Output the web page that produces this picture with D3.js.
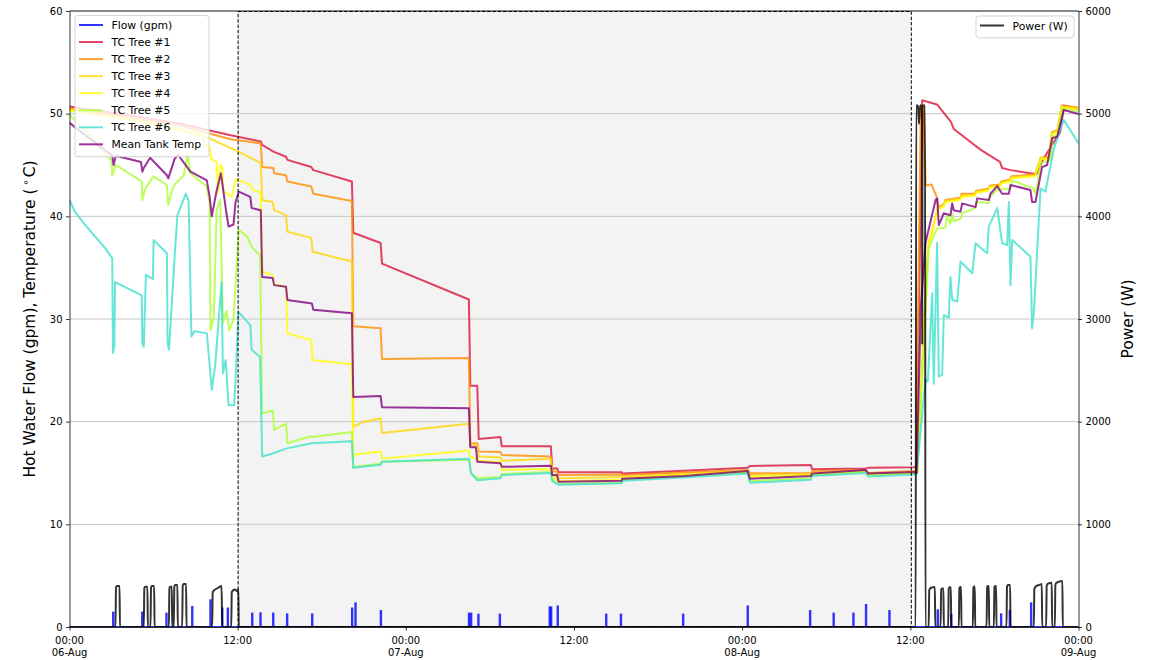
<!DOCTYPE html>
<html>
<head>
<meta charset="utf-8">
<script src="https://cdn.jsdelivr.net/npm/d3@7"></script>
<style>
  body { margin: 0; background: #ffffff; }
  svg text { font-family: "DejaVu Sans", sans-serif; fill: #000; }
</style>
</head>
<body>
<svg id="chart" width="1153" height="660"></svg>
<script>
// ---- time axis (hours since 06-Aug 00:00) ----
const timeTickHours = [0, 12, 24, 36, 48, 60, 72];
const timeTickClock = ["00:00", "12:00", "00:00", "12:00", "00:00", "12:00", "00:00"];
const timeTickDate  = ["06-Aug", "", "07-Aug", "", "08-Aug", "", "09-Aug"];
const tempTicks  = [0, 10, 20, 30, 40, 50, 60];
const powerTicks = [0, 1000, 2000, 3000, 4000, 5000, 6000];

// no-draw test window (hours)
const testWindow = [12.03, 60.07];

// ---- hot water draws: start hour and flow (gpm) ----
const flowHours = [3.12, 5.19, 6.92, 8.76, 10.06, 10.9, 11.3, 13.04, 13.63, 14.54, 15.53, 17.32,
  20.17, 20.41, 22.22, 28.51, 28.66, 29.18, 30.71, 34.27, 34.37, 34.84, 38.3, 39.35, 43.79,
  48.4, 52.85, 54.53, 55.94, 56.84, 58.51, 61.96, 62.92, 66.48, 67.1, 68.62];
const flowGpm = [1.5, 1.5, 1.4, 2.05, 2.7, 1.9, 1.9, 1.4, 1.43, 1.4, 1.33, 1.33,
  1.9, 2.4, 1.65, 1.4, 1.4, 1.3, 1.3, 2.0, 2.0, 2.1, 1.3, 1.3, 1.3,
  2.1, 1.65, 1.4, 1.4, 2.24, 1.65, 1.72, 1.27, 1.33, 1.66, 2.4];

// ---- thermocouple trees [hour, degC] ----
const tcTree1 = [[0,50.7],[4,49.9],[8,49.0],[11.5,47.9],[13.65,47.3],[13.75,46.95],[14.55,46.3],[15.45,45.8],[15.55,45.5],
  [17.25,44.8],[17.4,44.5],[20.15,43.4],[20.25,38.4],[22.2,37.4],[22.3,35.4],[28.5,31.9],[28.6,23.5],[29.1,23.5],
  [29.2,18.3],[30.75,18.5],[30.85,17.6],[34.35,17.6],[34.45,15.45],[34.8,15.45],[34.9,15.07],[39.4,15.07],[39.45,14.95],
  [43.85,15.23],[48.4,15.5],[48.55,15.68],[52.9,15.78],[53.0,15.36],[56.8,15.45],[57.0,15.5],[60.25,15.55],[60.45,15.6],
  [60.85,51.3],[61.9,50.9],[62.9,49.2],[63.1,48.5],[65.0,46.5],[66.4,45.3],[66.55,44.7],[67.15,44.5],[69.0,44.1],
  [69.5,45.6],[70.7,48.2],[70.95,50.8],[72,50.4]];

const tcTree2 = [[0,50.5],[4,49.7],[8,48.8],[11.5,47.5],[13.65,47.1],[13.75,44.8],[14.55,44.7],[14.6,44.2],[15.45,44.0],
  [15.55,43.4],[17.25,42.9],[17.4,42.2],[20.15,41.5],[20.25,29.3],[22.2,29.1],[22.3,26.1],[28.5,26.2],[28.6,17.7],
  [28.8,17.9],[29.1,17.9],[29.2,17.1],[30.75,17.05],[30.85,16.75],[34.35,16.6],[34.45,15.2],[34.8,15.1],[34.9,14.8],
  [39.4,14.85],[39.45,14.8],[43.85,15.05],[48.4,15.3],[48.55,14.97],[52.9,14.97],[53.0,15.2],[56.8,15.3],[57.0,15.0],
  [60.25,15.2],[60.4,15.2],[60.75,50.8],[60.95,50.6],[61.1,43.0],[61.5,43.1],[61.85,42.0],[62.0,40.9],[62.4,41.2],
  [62.5,41.6],[63.55,41.8],[63.65,42.2],[64.6,42.2],[64.7,42.5],[65.55,42.7],[65.7,43.0],[66.4,43.1],[66.5,43.4],
  [67.1,43.6],[67.2,43.9],[68.9,44.1],[69.3,45.7],[69.9,45.8],[70.1,48.2],[70.5,48.4],[70.8,50.8],[72,50.6]];

const tcTree3 = [[0,50.4],[4,49.5],[8,48.4],[10,47.6],[12.05,46.3],[13.0,45.65],[13.65,45.2],[13.75,41.6],[14.5,41.4],
  [14.6,40.6],[15.45,40.1],[15.55,38.5],[17.25,37.9],[17.35,36.55],[20.15,35.6],[20.25,19.5],[21.0,20.0],[22.2,20.3],
  [22.3,18.9],[28.5,19.8],[28.6,17.9],[29.1,17.6],[29.2,16.6],[30.75,16.5],[30.85,16.2],[34.35,16.4],[34.45,14.9],
  [34.9,14.5],[39.4,14.6],[39.45,14.6],[43.85,14.9],[48.4,15.2],[48.55,14.8],[52.9,14.9],[53.0,15.0],[56.8,15.1],
  [57.0,14.9],[60.25,15.1],[60.5,15.2],[61.0,31.0],[61.3,37.4],[61.7,39.4],[61.95,40.8],[62.4,41.1],[62.5,41.5],
  [63.55,41.7],[63.65,42.0],[64.6,42.1],[64.7,42.4],[65.55,42.6],[65.7,42.9],[66.4,43.0],[66.5,43.3],[67.1,43.5],
  [67.2,43.8],[68.9,44.0],[69.3,45.65],[69.9,45.7],[70.1,48.1],[70.5,48.3],[70.8,50.7],[72,50.5]];

const tcTree4 = [[0,50.3],[5,49.3],[9.5,47.9],[9.6,47.0],[10.0,46.8],[10.1,45.6],[10.5,45.3],[10.6,42.2],[10.75,45.0],
  [10.9,44.8],[11.0,42.4],[11.4,42.1],[11.6,41.9],[11.85,43.6],[12.1,43.5],[12.95,43.05],[13.05,42.6],[13.65,42.3],
  [13.75,34.6],[14.5,34.3],[14.6,33.4],[15.45,33.1],[15.55,28.6],[17.25,27.95],[17.35,26.0],[20.15,25.6],[20.25,16.5],
  [20.4,16.8],[22.2,17.1],[22.3,16.4],[28.5,17.2],[28.6,16.6],[29.1,16.3],[29.2,16.2],[30.75,16.1],[30.85,15.3],
  [34.35,15.4],[34.45,14.6],[34.9,14.2],[39.4,14.35],[39.45,14.5],[43.85,14.8],[48.4,15.1],[48.55,14.6],[52.9,14.75],
  [53.0,14.95],[56.8,15.1],[57.0,14.85],[60.25,15.0],[60.5,15.1],[61.0,29.0],[61.3,37.0],[61.7,39.2],[61.95,40.6],
  [62.4,41.0],[62.5,41.4],[63.55,41.6],[63.65,41.9],[64.6,42.0],[64.7,42.3],[65.55,42.5],[65.7,42.8],[66.4,42.9],
  [66.5,43.2],[67.1,43.4],[67.2,43.7],[68.9,43.9],[69.3,45.55],[69.9,45.6],[70.1,48.0],[70.5,48.2],[70.8,50.6],[72,50.4]];

const tcTree5 = [[0,49.9],[1.5,47.8],[3.0,45.4],[3.05,44.0],[3.3,45.0],[5.15,43.4],[5.2,41.6],[5.4,42.7],[6.0,43.9],
  [6.95,43.05],[7.05,41.1],[7.3,42.5],[7.56,43.2],[8.16,44.0],[8.45,46.1],[8.6,44.2],[9.8,42.9],[10.0,41.3],[10.06,28.9],
  [10.3,30.2],[10.5,40.6],[10.75,41.6],[10.95,29.6],[11.2,30.8],[11.4,28.9],[11.7,30.0],[12.08,38.7],[12.7,38.0],
  [13.0,37.0],[13.6,36.2],[13.75,20.8],[14.5,21.1],[14.6,19.2],[15.45,19.8],[15.55,17.9],[17.3,18.6],[17.35,18.5],
  [20.15,19.0],[20.25,15.6],[22.2,15.9],[22.3,16.1],[28.5,16.3],[28.65,14.9],[29.1,14.5],[30.75,14.6],[30.85,14.9],
  [34.35,15.1],[34.45,14.4],[34.9,13.9],[39.4,14.05],[39.45,14.35],[43.85,14.65],[48.4,15.05],[48.55,14.2],[52.9,14.5],
  [53.0,14.8],[56.8,15.1],[57.0,14.8],[60.25,14.95],[60.5,15.0],[61.3,36.9],[61.9,38.8],[62.5,38.9],[62.6,40.0],
  [62.86,39.3],[63.0,40.3],[63.1,39.5],[63.6,39.8],[63.7,40.3],[64.65,40.8],[64.75,41.4],[65.6,41.3],[65.7,41.9],
  [66.2,42.6],[67.15,42.7],[67.27,43.5],[68.8,42.7],[68.95,42.2],[69.3,45.2],[70.05,45.5],[70.15,47.75],[70.5,47.9],
  [70.85,50.5],[72,50.2]];

const tcTree6 = [[0,41.6],[0.4,40.4],[1.1,39.2],[1.85,38.0],[2.55,36.9],[3.05,35.9],[3.1,26.7],[3.2,27.3],[3.25,33.6],[5.15,32.3],
  [5.2,27.6],[5.3,27.3],[5.45,34.3],[5.95,33.9],[6.0,37.7],[6.95,36.4],[7.0,27.6],[7.1,27.0],[7.5,36.0],[7.7,40.1],
  [8.3,42.2],[8.5,41.5],[8.7,28.3],[8.9,28.8],[9.8,28.6],[10.05,24.7],[10.15,23.1],[10.4,25.5],[10.85,33.6],[10.95,24.7],
  [11.15,26.0],[11.35,21.6],[11.75,21.6],[11.85,24.1],[12.05,30.7],[12.9,29.4],[13.0,27.0],[13.6,26.3],[13.75,16.6],
  [14.5,16.9],[15.5,17.4],[17.3,17.9],[20.15,18.1],[20.25,15.5],[22.2,15.8],[22.3,16.1],[28.5,16.4],[28.65,15.0],
  [29.1,14.3],[30.75,14.5],[30.85,14.8],[34.35,15.0],[34.45,14.2],[34.9,13.85],[39.4,14.0],[39.45,14.25],[43.85,14.55],
  [48.4,14.95],[48.55,14.05],[52.9,14.35],[53.0,14.7],[56.8,15.0],[57.0,14.65],[60.25,14.85],[60.45,15.0],[61.08,24.1],
  [61.25,23.9],[61.56,32.5],[61.67,23.7],[61.91,37.4],[62.03,24.4],[62.27,24.55],[62.39,30.4],[62.74,30.1],[62.86,34.1],
  [62.99,31.85],[63.35,31.7],[63.58,35.6],[64.42,34.45],[64.65,37.37],[65.48,36.4],[65.6,39.0],[66.2,40.8],[66.55,37.4],
  [66.91,37.2],[67.03,41.4],[67.15,33.3],[67.27,37.7],[68.57,36.07],[68.69,29.1],[68.81,30.55],[69.29,42.7],[69.64,42.4],
  [70.24,46.6],[70.95,49.4],[72,47.1]];

const meanTank = [[0,49.1],[1.5,47.5],[3.05,45.9],[3.15,45.0],[3.3,45.9],[5.1,45.3],[5.2,44.35],[5.3,44.7],[5.75,45.7],
  [6.95,44.0],[7.05,43.7],[7.5,45.6],[7.75,46.0],[8.6,44.4],[8.7,44.3],[9.8,43.5],[10.0,41.9],[10.15,40.0],[10.5,42.5],
  [10.8,44.2],[11.2,40.3],[11.35,39.0],[11.7,39.2],[11.85,41.4],[12.08,42.4],[12.9,41.9],[13.0,40.8],[13.65,40.6],
  [13.75,34.1],[14.5,34.0],[14.6,33.3],[15.45,33.15],[15.55,31.85],[17.3,31.5],[17.4,30.9],[20.15,30.55],[20.25,22.4],
  [22.2,22.5],[22.3,21.4],[28.5,21.3],[28.6,17.5],[29.0,17.5],[29.1,16.1],[30.75,15.95],[30.85,15.6],[34.35,15.7],
  [34.45,14.8],[34.8,14.8],[34.9,14.15],[39.4,14.25],[39.45,14.45],[43.85,14.7],[48.4,15.2],[48.55,14.45],[52.9,14.7],
  [53.0,14.95],[56.8,15.3],[57.0,14.95],[60.25,15.1],[60.45,15.0],[60.75,31.2],[61.08,37.4],[61.8,41.6],[61.92,41.75],
  [62.03,39.15],[62.39,40.3],[62.86,40.1],[62.99,41.26],[63.1,40.6],[63.58,40.45],[63.7,41.26],[64.65,40.9],[64.77,41.75],
  [65.6,41.6],[65.72,42.2],[66.2,42.95],[66.55,42.2],[67.03,42.2],[67.15,43.05],[68.57,42.56],[68.69,41.4],[68.93,41.4],
  [69.4,44.8],[69.76,45.0],[70.12,47.6],[70.48,47.75],[70.95,50.35],[72,49.97]];

// ---- heater power [hour, W] ----
const powerW = [[0,0],[3.28,0],[3.32,385],[3.38,400],[3.57,400],[3.6,0],
  [5.3,0],[5.34,380],[5.4,393],[5.56,393],[5.59,0],
  [5.78,0],[5.82,385],[5.88,400],[6.04,400],[6.07,0],
  [7.09,0],[7.13,380],[7.19,393],[7.3,393],[7.33,0],
  [7.44,0],[7.48,395],[7.54,409],[7.7,409],[7.73,0],
  [8.04,0],[8.08,405],[8.14,419],[8.32,419],[8.35,0],
  [10.18,0],[10.22,340],[10.3,355],[10.6,380],[10.85,400],[10.9,0],
  [11.54,0],[11.58,340],[11.66,355],[11.8,365],[11.95,350],[12.05,367],[12.08,0],
  [60.38,0],[60.42,5080],[60.55,5080],[60.62,4900],[60.7,5080],[60.83,5080],[60.85,2750],[60.87,5080],[61.05,5080],[61.08,0],
  [61.31,0],[61.35,360],[61.45,380],[61.75,390],[61.78,0],
  [62.16,0],[62.2,365],[62.26,376],[62.36,376],[62.39,0],
  [62.7,0],[62.74,375],[62.8,386],[62.89,386],[62.92,0],
  [63.46,0],[63.5,380],[63.56,390],[63.62,390],[63.65,0],
  [64.46,0],[64.5,385],[64.55,395],[64.6,395],[64.63,0],
  [65.44,0],[65.48,390],[65.54,400],[65.6,400],[65.63,0],
  [65.96,0],[66.0,390],[66.06,400],[66.12,400],[66.15,0],
  [66.86,0],[66.9,395],[66.97,409],[67.12,409],[67.15,0],
  [68.81,0],[68.85,370],[68.95,395],[69.2,410],[69.38,419],[69.41,0],
  [69.69,0],[69.73,400],[69.8,420],[70.09,431],[70.12,0],
  [70.31,0],[70.35,410],[70.42,430],[70.85,448],[70.88,0],
  [72,0]];

const tempSeries = [
  { name: "TC Tree #1", color: "#dc143c", data: tcTree1 },
  { name: "TC Tree #2", color: "#ff8c00", data: tcTree2 },
  { name: "TC Tree #3", color: "#ffd700", data: tcTree3 },
  { name: "TC Tree #4", color: "#ffff00", data: tcTree4 },
  { name: "TC Tree #5", color: "#adff2f", data: tcTree5 },
  { name: "TC Tree #6", color: "#40e0d0", data: tcTree6 },
  { name: "Mean Tank Temp", color: "#800080", data: meanTank }
];

// ---- layout ----
const X0 = 69.5, X1 = 1078.5, Y0 = 11, Y1 = 627;
const x  = d3.scaleLinear().domain([0, 72]).range([X0, X1]);
const yT = d3.scaleLinear().domain([0, 60]).range([Y1, Y0]);
const yP = d3.scaleLinear().domain([0, 6000]).range([Y1, Y0]);
const svg = d3.select("#chart");
const ALPHA = 0.8;

svg.append("defs").append("clipPath").attr("id", "plotArea")
  .append("rect").attr("x", X0).attr("y", Y0).attr("width", X1 - X0).attr("height", Y1 - Y0);

// shaded window (fill)
svg.append("rect")
  .attr("x", x(testWindow[0])).attr("y", Y0)
  .attr("width", x(testWindow[1]) - x(testWindow[0])).attr("height", Y1 - Y0)
  .attr("fill", "#f3f3f3");

// horizontal grid
svg.append("g").selectAll("line").data(tempTicks).join("line")
  .attr("x1", X0).attr("x2", X1)
  .attr("y1", d => yT(d)).attr("y2", d => yT(d))
  .attr("stroke", "#c6c6c6").attr("stroke-width", 1);

const plot = svg.append("g").attr("clip-path", "url(#plotArea)");

// flow: zero line and draw spikes
plot.append("line").attr("x1", x(0)).attr("x2", x(72)).attr("y1", yT(0)).attr("y2", yT(0))
  .attr("stroke", "blue").attr("stroke-opacity", ALPHA).attr("stroke-width", 2);
plot.append("g").selectAll("rect").data(flowHours.map((h, i) => [h, flowGpm[i]])).join("rect")
  .attr("x", d => x(d[0]) - 1.2).attr("width", 2.4)
  .attr("y", d => yT(d[1])).attr("height", d => yT(0) - yT(d[1]))
  .attr("fill", "blue").attr("fill-opacity", ALPHA);

// temperatures
const tLine = d3.line().x(d => x(d[0])).y(d => yT(d[1]));
tempSeries.forEach(s => {
  plot.append("path").datum(s.data).attr("d", tLine)
    .attr("fill", "none").attr("stroke", s.color).attr("stroke-opacity", ALPHA)
    .attr("stroke-width", 2).attr("stroke-linejoin", "round");
});

// power on secondary axis
const pLine = d3.line().x(d => x(d[0])).y(d => yP(d[1])).curve(d3.curveMonotoneX);
plot.append("path").datum(powerW).attr("d", pLine)
  .attr("fill", "none").attr("stroke", "#000").attr("stroke-opacity", ALPHA)
  .attr("stroke-width", 2).attr("stroke-linejoin", "round");

// dashed outline of the window
svg.append("rect")
  .attr("x", x(testWindow[0])).attr("y", Y0 + 0.5)
  .attr("width", x(testWindow[1]) - x(testWindow[0])).attr("height", Y1 - Y0 - 1)
  .attr("fill", "none").attr("stroke", "#000").attr("stroke-width", 1)
  .attr("stroke-dasharray", "3.5,1.8");

// ---- axes ----
const axL = svg.append("g").attr("transform", `translate(${X0},0)`)
  .call(d3.axisLeft(yT).tickValues(tempTicks).tickFormat(d3.format("d")).tickSize(3.5).tickSizeOuter(0).tickPadding(3.5));
const axR = svg.append("g").attr("transform", `translate(${X1},0)`)
  .call(d3.axisRight(yP).tickValues(powerTicks).tickFormat(d3.format("d")).tickSize(3.5).tickSizeOuter(0).tickPadding(3.5));
const axB = svg.append("g").attr("transform", `translate(0,${Y1})`)
  .call(d3.axisBottom(x).tickValues(timeTickHours).tickFormat(() => "").tickSize(3.5).tickSizeOuter(0));
[axL, axR, axB].forEach(a => {
  a.selectAll("text").attr("font-size", 10).attr("font-family", "DejaVu Sans").attr("fill", "#000");
  a.selectAll("line").attr("stroke", "#000").attr("stroke-width", 0.8);
  a.select(".domain").attr("stroke", "#000").attr("stroke-width", 0.8);
});
// top spine
svg.append("line").attr("x1", X0).attr("x2", X1).attr("y1", Y0).attr("y2", Y0)
  .attr("stroke", "#000").attr("stroke-width", 0.8);

// two-line time labels
const tl = svg.append("g").attr("font-size", 10).attr("text-anchor", "middle");
timeTickHours.forEach((h, i) => {
  const t = tl.append("text").attr("x", x(h)).attr("y", Y1 + 17);
  t.append("tspan").attr("x", x(h)).text(timeTickClock[i]);
  if (timeTickDate[i]) t.append("tspan").attr("x", x(h)).attr("dy", 12).text(timeTickDate[i]);
});

// axis titles
const yl = svg.append("text").attr("transform", `translate(35,${(Y0 + Y1) / 2}) rotate(-90)`)
  .attr("text-anchor", "middle").attr("font-size", 15.5);
yl.append("tspan").text("Hot Water Flow (gpm), Temperature (");
yl.append("tspan").attr("dx", 3).attr("dy", -6).attr("font-size", 10).text("\u2218");
yl.append("tspan").attr("dx", 2).attr("dy", 6).text("C)");

svg.append("text").attr("transform", `translate(1133,${(Y0 + Y1) / 2}) rotate(-90)`)
  .attr("text-anchor", "middle").attr("font-size", 15.5).text("Power (W)");

// ---- legends ----
function legend(x0, y0, w, items) {
  const g = svg.append("g");
  const rowH = 17.05;
  g.append("rect").attr("x", x0).attr("y", y0).attr("width", w).attr("height", rowH * items.length + 4.8)
    .attr("rx", 3).attr("fill", "#fff").attr("fill-opacity", 0.8)
    .attr("stroke", "#d4d4d4").attr("stroke-width", 1);
  items.forEach((it, i) => {
    const cy = y0 + 9.5 + i * rowH;
    g.append("line").attr("x1", x0 + 4).attr("x2", x0 + 28).attr("y1", cy).attr("y2", cy)
      .attr("stroke", it.color).attr("stroke-opacity", ALPHA).attr("stroke-width", 2);
    g.append("text").attr("x", x0 + 36.5).attr("y", cy + 4).attr("font-size", 10.8).text(it.name);
  });
}
legend(75, 15.5, 134, [{ name: "Flow (gpm)", color: "blue" }].concat(tempSeries));
legend(976, 16, 98, [{ name: "Power (W)", color: "#000" }]);
</script>
</body>
</html>
